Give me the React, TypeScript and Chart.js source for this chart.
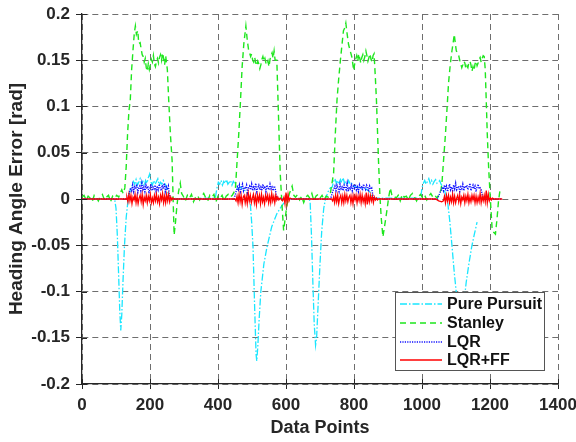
import React, { useEffect, useRef } from "react";
import { Chart, registerables } from "chart.js";

Chart.register(...registerables);

type P = [number, number];
type Run = { start: number; step: number; values: number[] };

const X_MIN = 0;
const X_MAX = 1400;
const X_STEP = 200;
const Y_MIN = -0.2;
const Y_MAX = 0.2;
const Y_STEP = 0.05;

const SERIES_NAMES = ["Pure Pursuit", "Stanley", "LQR", "LQR+FF"];

// ---------------- Pure Pursuit ----------------
const ppPoints: P[] = [
  [0, 0], [96, 0], [100, -0.01], [104, -0.04], [108, -0.085], [111, -0.12], [114, -0.142], [117, -0.125],
  [121, -0.085], [125, -0.05], [130, -0.02], [134, -0.006], [138, 0.004], [143, 0.011],
  [251, 0.01], [256, 0.001], [300, 0], [392, 0.001],
  [458, 0.011], [466, 0.013], [474, 0.01], [482, 0.009], [490, 0.003], [495, -0.005], [499, -0.025],
  [503, -0.052], [508, -0.12], [512, -0.168], [514, -0.175], [517, -0.16], [521, -0.13], [526, -0.1],
  [535, -0.07], [544, -0.052], [558, -0.03], [573, -0.016], [590, -0.006], [605, 0],
  [668, 0], [671, -0.003], [675, -0.04], [679, -0.09], [683, -0.135], [687, -0.158], [690, -0.15],
  [695, -0.11], [700, -0.07], [705, -0.035], [711, -0.01], [716, 0], [724, 0.008], [730, 0.012],
  [805, 0.013], [820, 0.012], [835, 0.011], [848, 0.007], [856, 0.001], [996, 0.001],
  [1070, 0.005], [1076, -0.005], [1082, -0.025], [1088, -0.05], [1095, -0.08], [1102, -0.105],
  [1108, -0.13], [1114, -0.15], [1119, -0.145], [1124, -0.11], [1130, -0.09], [1138, -0.07],
  [1146, -0.052], [1154, -0.038], [1162, -0.025],
];
const ppC1 = [0.014, 0.019, 0.016, 0.021, 0.015, 0.018, 0.022, 0.016, 0.019, 0.014, 0.02, 0.017, 0.023, 0.027, 0.018, 0.015, 0.02, 0.016, 0.019, 0.022, 0.015, 0.018, 0.016, 0.02, 0.017, 0.014];
const ppC2 = [0.012, 0.018, 0.016, 0.02, 0.015, 0.019, 0.017, 0.021, 0.016, 0.018, 0.02, 0.015, 0.019, 0.017, 0.014];
const ppC3 = [0.013, 0.019, 0.022, 0.017, 0.02, 0.016, 0.021, 0.018, 0.023, 0.017, 0.019, 0.015, 0.02, 0.017, 0.018, 0.014];
const ppC4 = [0.012, 0.017, 0.02, 0.016, 0.019, 0.022, 0.017, 0.02, 0.016, 0.019, 0.021, 0.017, 0.018, 0.02, 0.016, 0.014, 0.011];

// ---------------- Stanley ----------------
const stPoints: P[] = [
  [113, 0.007], [117, 0.01], [121, 0.006], [126, 0.012], [130, 0.035], [134, 0.07], [138, 0.095],
  [142, 0.107], [146, 0.14], [150, 0.161], [154, 0.18], [157, 0.187], [160, 0.178], [164, 0.182],
  [167, 0.168], [171, 0.169],
  [251, 0.14], [255, 0.107], [260, 0.07], [265, 0.042], [268, 0], [271, -0.039], [275, -0.025],
  [279, -0.008], [284, 0.008], [289, 0.017], [293, 0.006],
  [451, 0.01], [456, 0.04], [461, 0.07], [466, 0.105], [471, 0.143], [476, 0.168], [482, 0.187],
  [486, 0.172], [490, 0.161],
  [573, 0.15], [578, 0.089], [583, 0.028], [588, -0.005], [593, -0.034], [598, -0.02], [603, -0.006],
  [610, 0.006], [618, 0.014], [623, 0.004],
  [740, 0.028], [745, 0.07], [750, 0.107], [755, 0.13], [760, 0.15], [765, 0.168], [769, 0.182],
  [773, 0.185], [776, 0.19], [780, 0.178], [784, 0.167], [789, 0.16], [794, 0.153], [799, 0.139],
  [863, 0.13], [866, 0.107], [869, 0.075], [872, 0.042], [876, 0.005], [880, -0.02], [885, -0.041],
  [891, -0.027], [897, -0.012], [902, 0.002], [907, 0.012], [912, 0.003],
  [1056, 0.01], [1059, 0.019], [1064, 0.045], [1069, 0.07], [1074, 0.1], [1078, 0.125], [1083, 0.145],
  [1088, 0.16], [1092, 0.17], [1095, 0.178], [1098, 0.168], [1101, 0.16], [1105, 0.158], [1108, 0.155],
  [1186, 0.14], [1189, 0.106], [1192, 0.07], [1196, 0.034], [1201, 0], [1206, -0.031], [1211, -0.036],
  [1216, -0.038], [1221, -0.02], [1225, -0.002], [1230, 0.011],
];
const stBase0 = [0.002, 0.004, -0.001, 0.003, 0.001, -0.003, 0.004, 0.002, -0.002, 0.003, 0.005, -0.001, 0.002, 0.004, -0.003, 0.003, 0.001, 0.004, 0.002];
const stBase1 = [0.003, -0.002, 0.004, 0.001, 0.005, -0.003, 0.002, 0.004, -0.001, 0.003, 0.006, 0.001, -0.002, 0.004, 0.002, 0.005, -0.003, 0.003, 0.001, 0.004, -0.002, 0.003, 0.005, 0.002, 0.004];
const stBase2 = [0.002, 0.005, -0.001, 0.003, -0.004, 0.002, 0.004, 0.001, 0.006, -0.002, 0.003, 0.005, 0.001, 0.004, -0.001, 0.003, 0.002, 0.005];
const stBase3 = [0.003, 0.001, 0.004, -0.002, 0.005, 0.002, 0.003, -0.001, 0.004, 0.006, 0.002, -0.002, 0.003, 0.005, 0.001, 0.004, -0.001, 0.003, 0.006, 0.002, 0.004, 0.001, 0.005];
const stPlat1 = [0.162, 0.156, 0.154, 0.148, 0.152, 0.142, 0.138, 0.146, 0.14, 0.145, 0.151, 0.148, 0.155, 0.146, 0.143, 0.149, 0.152, 0.147, 0.153, 0.156, 0.15, 0.158, 0.152, 0.145, 0.155];
const stPlat2 = [0.158, 0.154, 0.157, 0.15, 0.148, 0.153, 0.147, 0.144, 0.149, 0.146, 0.141, 0.145, 0.151, 0.154, 0.149, 0.152, 0.147, 0.145, 0.149, 0.143, 0.151, 0.155, 0.158, 0.152, 0.16, 0.15];
const stPlat3 = [0.146, 0.151, 0.155, 0.149, 0.157, 0.152, 0.147, 0.153, 0.156, 0.15, 0.154, 0.16, 0.155, 0.149, 0.153, 0.157, 0.151, 0.148, 0.155, 0.157];
const stPlat4 = [0.15, 0.146, 0.142, 0.145, 0.149, 0.147, 0.141, 0.144, 0.142, 0.148, 0.149, 0.145, 0.138, 0.143, 0.139, 0.146, 0.149, 0.144, 0.147, 0.151, 0.153, 0.148, 0.152, 0.155, 0.154];

// ---------------- LQR ----------------
const lqrPoints: P[] = [
  [0, 0], [134, 0], [137, 0.004], [140, 0.008],
  [257, 0.005], [261, 0], [447, 0], [451, 0.005], [454, 0.009],
  [571, 0.005], [575, 0], [731, 0], [735, 0.005], [738, 0.009],
  [855, 0.005], [859, 0], [1045, 0], [1050, 0.004], [1054, 0.008],
  [1177, 0.005], [1181, 0], [1236, 0],
];
const lqrC1 = [0.012, 0.009, 0.015, 0.008, 0.013, 0.011, 0.016, 0.007, 0.012, 0.014, 0.009, 0.017, 0.01, 0.013, 0.008, 0.015, 0.011, 0.014, 0.006, 0.012, 0.016, 0.009, 0.013, 0.011, 0.015, 0.008, 0.014, 0.01, 0.016, 0.012, 0.009, 0.015, 0.011, 0.017, 0.008, 0.013, 0.01, 0.014];
const lqrC2 = [0.013, 0.01, 0.015, 0.008, 0.012, 0.016, 0.009, 0.013, 0.011, 0.015, 0.007, 0.012, 0.014, 0.01, 0.016, 0.009, 0.013, 0.011, 0.017, 0.008, 0.012, 0.015, 0.01, 0.013, 0.009, 0.016, 0.011, 0.014, 0.008, 0.015, 0.012, 0.01, 0.016, 0.011, 0.013, 0.009, 0.014, 0.012];
const lqrC3 = [0.011, 0.014, 0.009, 0.015, 0.012, 0.008, 0.016, 0.011, 0.013, 0.009, 0.015, 0.012, 0.01, 0.017, 0.008, 0.013, 0.011, 0.015, 0.009, 0.014, 0.012, 0.016, 0.01, 0.013, 0.008, 0.015, 0.011, 0.014, 0.009, 0.016, 0.012, 0.01, 0.015, 0.013, 0.008, 0.014, 0.011, 0.012];
const lqrC4 = [0.01, 0.013, 0.009, 0.015, 0.011, 0.014, 0.008, 0.012, 0.016, 0.01, 0.013, 0.009, 0.015, 0.011, 0.017, 0.01, 0.012, 0.014, 0.008, 0.013, 0.011, 0.016, 0.009, 0.014, 0.012, 0.015, 0.01, 0.013, 0.017, 0.009, 0.012, 0.015, 0.011, 0.014, 0.008, 0.013, 0.016, 0.011, 0.012, 0.01];

// ---------------- LQR+FF ----------------
const ffPoints: P[] = [
  [0, 0], [130, 0], [270, 0], [450, 0], [453, -0.002],
  [583, 0.001], [590, -0.002], [594, 0.002], [618, 0], [734, 0], [737, -0.002],
  [876, 0], [1040, 0], [1049, -0.002], [1058, -0.003], [1063, -0.002],
  [1212, 0], [1236, 0],
];
const ffC1 = [0.002, -0.003, 0.005, -0.002, 0.004, -0.005, 0.002, -0.001, 0.005, -0.004, 0.003, -0.005, 0.001, 0.004, -0.003, 0.005, -0.006, 0.002, -0.002, 0.004, -0.004, 0.003, -0.002, 0.005, -0.004, 0.001, -0.004, 0.004, -0.002, 0.005, -0.003, 0.002, -0.005, 0.004, -0.001, 0.006, -0.004, 0.003, -0.004, 0.005, -0.002, 0.005, -0.003, 0.002, -0.001, 0.001];
const ffC2 = [0.003, -0.004, 0.005, -0.003, 0.004, -0.006, 0.002, 0.004, -0.004, 0.003, -0.005, 0.006, -0.002, 0.004, -0.004, 0.001, 0.005, -0.004, 0.003, -0.006, 0.004, -0.002, 0.004, -0.005, 0.005, -0.003, 0.002, -0.005, 0.004, -0.001, 0.004, -0.004, 0.003, -0.004, 0.006, -0.002, 0.003, -0.004, 0.004, -0.001, 0.002, -0.001];
const ffC2b = [-0.005, 0.007, -0.004, 0.005, -0.002, 0.001];
const ffC3 = [0.002, -0.004, 0.004, -0.003, 0.004, -0.005, 0.001, 0.004, -0.004, 0.003, -0.004, 0.005, -0.002, 0.004, -0.003, 0.002, 0.004, -0.004, 0.003, -0.005, 0.004, -0.001, 0.004, -0.004, 0.003, -0.002, 0.005, -0.004, 0.004, -0.003, 0.002, -0.005, 0.007, -0.006, 0.004, -0.003, 0.004, -0.002, 0.003, -0.004, 0.002, -0.001, 0.001, -0.001, 0];
const ffC4 = [0.003, -0.004, 0.004, -0.002, 0.004, -0.004, 0.002, -0.003, 0.005, -0.004, 0.003, -0.004, 0.001, 0.004, -0.003, 0.004, -0.005, 0.002, -0.001, 0.004, -0.004, 0.003, -0.002, 0.005, -0.004, 0.002, -0.003, 0.004, -0.001, 0.004, -0.004, 0.003, -0.004, 0.002, -0.003, 0.006, -0.004, 0.003, -0.002, 0.004, -0.003, 0.009, -0.004, 0.005, -0.002, 0.001, -0.001, 0.001];

const ppRuns: Run[] = [
  { start: 147, step: 4, values: ppC1 },
  { start: 397, step: 4, values: ppC2 },
  { start: 736, step: 4, values: ppC3 },
  { start: 1000, step: 4, values: ppC4 },
];
const stRuns: Run[] = [
  { start: 0, step: 6, values: stBase0 },
  { start: 174, step: 3, values: stPlat1 },
  { start: 298, step: 6, values: stBase1 },
  { start: 493, step: 3, values: stPlat2 },
  { start: 628, step: 6, values: stBase2 },
  { start: 802, step: 3, values: stPlat3 },
  { start: 918, step: 6, values: stBase3 },
  { start: 1111, step: 3, values: stPlat4 },
];
const lqrRuns: Run[] = [
  { start: 143, step: 3, values: lqrC1 },
  { start: 457, step: 3, values: lqrC2 },
  { start: 741, step: 3, values: lqrC3 },
  { start: 1057, step: 3, values: lqrC4 },
];
const ffRuns: Run[] = [
  { start: 132, step: 3, values: ffC1 },
  { start: 456, step: 3, values: ffC2 },
  { start: 597, step: 3, values: ffC2b },
  { start: 740, step: 3, values: ffC3 },
  { start: 1066, step: 3, values: ffC4 },
];

function build(points: P[], runs: Run[]) {
  const out = points.map(([x, y]) => ({ x, y }));
  runs.forEach((r) => r.values.forEach((v, i) => out.push({ x: r.start + i * r.step, y: v })));
  return out.sort((a, b) => a.x - b.x);
}

const FONT = "'Liberation Sans', Arial, Helvetica, sans-serif";
const TXT = "#262626";

const COLORS = ["rgb(25,230,255)", "rgb(30,230,30)", "rgb(15,15,255)", "rgb(255,0,0)"];
const DASHES = [[7, 2, 1.5, 2], [6, 4], [1.2, 1.2], []];
const WIDTHS = [1.3, 1.4, 1.4, 1.3];

const innerTicks = {
  id: "innerTicks",
  afterDatasetsDraw(chart: any) {
    const { ctx, chartArea, scales } = chart;
    ctx.save();
    ctx.strokeStyle = TXT;
    ctx.lineWidth = 1;
    ctx.setLineDash([]);
    scales.x.ticks.forEach((t: any) => {
      const px = Math.round(scales.x.getPixelForValue(t.value)) + 0.5;
      ctx.beginPath();
      ctx.moveTo(px, chartArea.bottom);
      ctx.lineTo(px, chartArea.bottom - 5);
      ctx.stroke();
    });
    scales.y.ticks.forEach((t: any) => {
      const py = Math.round(scales.y.getPixelForValue(t.value)) + 0.5;
      ctx.beginPath();
      ctx.moveTo(chartArea.left, py);
      ctx.lineTo(chartArea.left + 5, py);
      ctx.stroke();
    });
    ctx.restore();
  },
};

const boxLegend = {
  id: "boxLegend",
  afterDraw(chart: any) {
    const { ctx } = chart;
    const bx = 395.5, by = 292.5, bw = 149, bh = 78;
    ctx.save();
    ctx.fillStyle = "#ffffff";
    ctx.fillRect(bx, by, bw, bh);
    ctx.strokeStyle = "#555555";
    ctx.lineWidth = 1;
    ctx.setLineDash([]);
    ctx.strokeRect(bx, by, bw, bh);
    const rows = [304, 323, 342, 360];
    chart.data.datasets.forEach((ds: any, i: number) => {
      const y = rows[i];
      ctx.beginPath();
      ctx.strokeStyle = ds.borderColor;
      ctx.lineWidth = ds.borderWidth;
      ctx.setLineDash(ds.borderDash || []);
      ctx.moveTo(400, y);
      ctx.lineTo(442, y);
      ctx.stroke();
      ctx.setLineDash([]);
      ctx.fillStyle = "#111111";
      ctx.font = `bold 16px ${FONT}`;
      ctx.textBaseline = "middle";
      ctx.textAlign = "left";
      ctx.fillText(ds.label, 447, y + 1);
    });
    ctx.restore();
  },
};

export default function App() {
  const ref = useRef<HTMLCanvasElement | null>(null);

  useEffect(() => {
    if (!ref.current) return;
    const seriesData = [
      build(ppPoints, ppRuns),
      build(stPoints, stRuns),
      build(lqrPoints, lqrRuns),
      build(ffPoints, ffRuns),
    ];
    const chart = new Chart(ref.current, {
      type: "line",
      data: {
        datasets: SERIES_NAMES.map((name, i) => ({
          label: name,
          data: seriesData[i],
          borderColor: COLORS[i],
          backgroundColor: COLORS[i],
          borderWidth: WIDTHS[i],
          borderDash: DASHES[i],
          pointRadius: 0,
          tension: 0,
          fill: false,
          order: 4 - i,
        })),
      },
      options: {
        animation: false,
        responsive: false,
        devicePixelRatio: 1,
        layout: { padding: { left: 0, right: 18, top: 14, bottom: 0 } },
        plugins: {
          legend: { display: false },
          tooltip: { enabled: false },
        },
        scales: {
          x: {
            type: "linear",
            min: X_MIN,
            max: X_MAX,
            afterFit: (s: any) => {
              s.height = 58;
              s.paddingLeft = 0;
              s.paddingRight = 0;
            },
            ticks: {
              stepSize: X_STEP,
              maxRotation: 0,
              autoSkip: false,
              padding: 6,
              color: TXT,
              font: { family: FONT, weight: "bold", size: 17 },
              callback: (v: any) => String(Number(v)),
            },
            grid: {
              color: "#6e6e6e",
              lineWidth: 1,
              drawTicks: true,
              tickLength: 5,
              tickColor: TXT,
            },
            border: { display: true, color: TXT, width: 1.3, dash: [6, 4] },
            title: {
              display: true,
              text: "Data Points",
              color: TXT,
              font: { family: FONT, weight: "bold", size: 18 },
              padding: { top: 0, bottom: 3 },
            },
          },
          y: {
            type: "linear",
            min: Y_MIN,
            max: Y_MAX,
            afterFit: (s: any) => {
              s.width = 82;
              s.paddingTop = 0;
              s.paddingBottom = 0;
            },
            ticks: {
              stepSize: Y_STEP,
              padding: 6,
              color: TXT,
              font: { family: FONT, weight: "bold", size: 17 },
              callback: (v: any) => {
                const n = Number(v);
                if (Math.abs(n) < 1e-9) return "0";
                return String(parseFloat(n.toFixed(2)));
              },
            },
            grid: {
              color: "#6e6e6e",
              lineWidth: 1,
              drawTicks: true,
              tickLength: 6,
              tickColor: TXT,
            },
            border: { display: true, color: TXT, width: 1.3, dash: [6, 4] },
            title: {
              display: true,
              text: "Heading Angle Error [rad]",
              color: TXT,
              font: { family: FONT, weight: "bold", size: 19 },
              padding: { top: 5, bottom: 0 },
            },
          },
        },
      },
      plugins: [innerTicks, boxLegend],
    } as any);
    return () => chart.destroy();
  }, []);

  return (
    <div style={{ position: "absolute", left: 0, top: 0, width: 576, height: 442, background: "#fff" }}>
      <canvas ref={ref} width={576} height={442} style={{ display: "block" }} />
    </div>
  );
}
